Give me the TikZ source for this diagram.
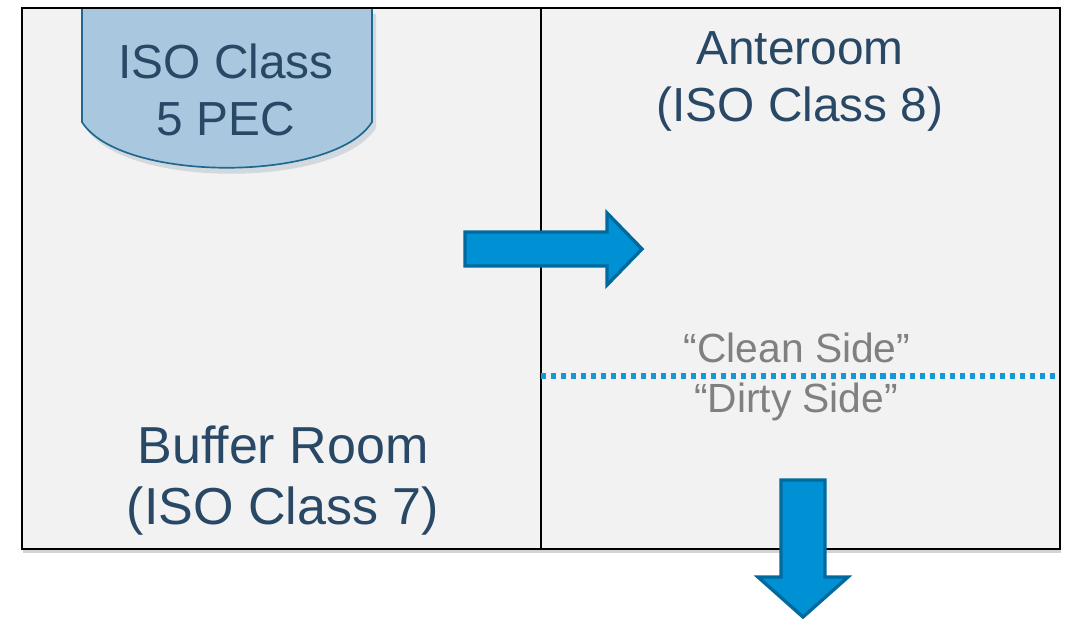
\documentclass[tikz,border=0pt]{standalone}
\usepackage{fontspec}
\setmainfont{Liberation Sans}[Ligatures=NoCommon]
\usepackage{tikz}
\usetikzlibrary{shadows}
\definecolor{roomfill}{RGB}{242,242,242}
\definecolor{labelblue}{RGB}{40,72,102}
\definecolor{pecfill}{RGB}{169,200,224}
\definecolor{pecline}{RGB}{30,105,140}
\definecolor{arrowfill}{RGB}{0,144,212}
\definecolor{arrowline}{RGB}{0,106,158}
\definecolor{dotblue}{RGB}{20,152,216}
\tikzstyle{room} = [fill=roomfill, drop shadow={shadow xshift=1pt, shadow yshift=-3pt, opacity=0.35}]
\tikzstyle{wall} = [draw=black, line width=1.4pt]
\tikzstyle{pec} = [fill=pecfill, draw=pecline, line width=1.2pt]
\tikzstyle{flow} = [fill=arrowfill, draw=arrowline, line width=2.4pt, line join=miter]
\tikzstyle{roomlabel} = [text=labelblue, align=center, inner sep=0pt]
\tikzstyle{side} = [text=gray, inner sep=0pt, anchor=base, font=\fontsize{29}{34}\selectfont]

\begin{document}
\begin{tikzpicture}[x=0.025cm, y=-0.025cm]
        \useasboundingbox (0,0) rectangle (1068,619);

        \fill[room] (22,8) rectangle (541,549);
        \fill[room] (541,8) rectangle (1060,549);

        \fill[pecfill!60!gray, opacity=0.35] (86,14) -- (86,128) .. controls (124,189) and (338,189) .. (376,128) -- (376,14) -- cycle;
        \draw[pec] (82,8) -- (82,122) .. controls (120,183) and (334,183) .. (372,122) -- (372,8);

        \draw[wall] (22,8) rectangle (541,549);
        \draw[wall] (541,8) rectangle (1060,549);

        \draw[dotblue, line width=3.6pt, dash pattern=on 3.6pt off 3.5pt] (541,376) -- (1060,376);

        \draw[flow] (465,232) -- (607,232) -- (607,213) -- (642,249) -- (607,285) -- (607,266) -- (465,266) -- cycle;
        \draw[flow] (781,480) -- (825,480) -- (825,577) -- (848,577) -- (803,617) -- (758,577) -- (781,577) -- cycle;

        \node[roomlabel, font=\fontsize{34}{40}\selectfont] at (226,90) (pecname) {ISO Class\\5 PEC};
        \node[roomlabel, font=\fontsize{34}{40.5}\selectfont] at (800,81.5) (ante) {Anteroom\\(ISO Class 8)};
        \node[roomlabel, font=\fontsize{37}{44}\selectfont] at (283,480.5) (buffer) {Buffer Room\\(ISO Class 7)};

        \node[side] at (797,362) (clean) {“Clean Side”};
        \node[side] at (796,412) (dirty) {“Dirty Side”};

    \end{tikzpicture}
\end{document}
